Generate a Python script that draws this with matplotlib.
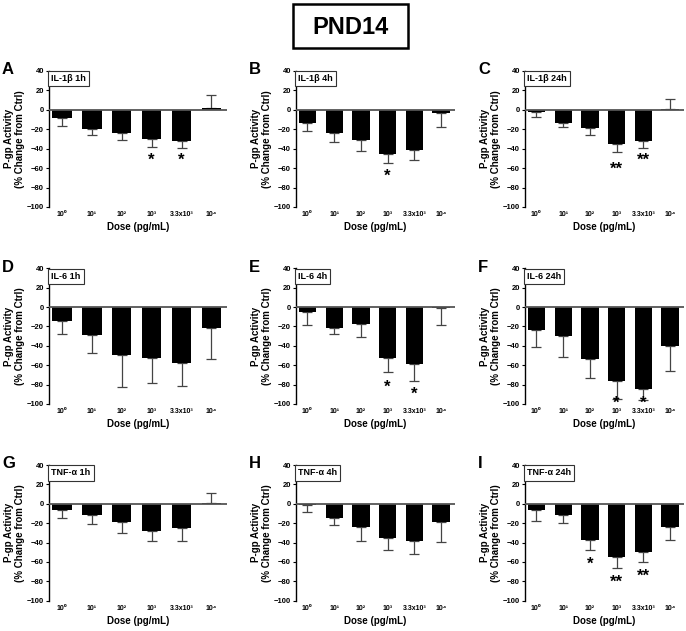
import matplotlib
matplotlib.use("Agg")
import matplotlib.pyplot as plt
from matplotlib.patches import Rectangle
import numpy as np

plt.rcParams['font.family'] = ['Liberation Sans', 'DejaVu Sans']

# --- data (mean, SEM) ---
doses = ['10⁰', '10¹', '10²', '10³', '3.3x10³', '10⁴']

il1b_1h_mean = [-8.8, -19.7, -24.5, -30.3, -32.0, 1.5]
il1b_1h_sem = [8.5, 6.8, 6.5, 8.1, 7.5, 13.5]
il1b_4h_mean = [-13.4, -24.0, -31.6, -45.6, -41.2, -3.4]
il1b_4h_sem = [8.2, 9.6, 10.6, 9.4, 11.0, 14.8]
il1b_24h_mean = [-2.4, -13.4, -19.0, -35.5, -32.0, 0.5]
il1b_24h_sem = [5.2, 4.5, 7.5, 8.3, 7.7, 10.5]

il6_1h_mean = [-14.1, -28.9, -49.9, -52.3, -57.4, -22.0]
il6_1h_sem = [13.8, 18.1, 32.7, 25.7, 24.5, 31.3]
il6_4h_mean = [-5.5, -21.7, -17.9, -52.6, -58.5, -1.4]
il6_4h_sem = [12.7, 6.5, 13.4, 14.4, 17.5, 17.6]
il6_24h_mean = [-23.8, -30.0, -53.5, -76.2, -84.6, -40.2]
il6_24h_sem = [17.2, 21.7, 19.9, 19.0, 11.0, 26.2]

tnf_1h_mean = [-6.9, -11.4, -19.0, -27.6, -24.8, 0.5]
tnf_1h_sem = [7.6, 9.3, 11.0, 11.0, 13.2, 10.5]
tnf_4h_mean = [-1.0, -14.9, -23.5, -35.6, -38.8, -18.3]
tnf_4h_sem = [7.0, 6.6, 14.5, 12.2, 13.2, 20.7]
tnf_24h_mean = [-6.9, -12.1, -37.4, -55.4, -50.2, -23.5]
tnf_24h_sem = [11.1, 7.3, 10.4, 11.0, 9.7, 13.9]

# significance marks: (bar index, mark, y position)
stars_a = [(3, '*', -47), (4, '*', -47)]
stars_b = [(3, '*', -63)]
stars_c = [(3, '**', -56), (4, '**', -47)]
stars_e = [(3, '*', -77), (4, '*', -85)]
stars_f = [(3, '*', -94), (4, '*', -94)]
stars_i = [(2, '*', -57), (3, '**', -76), (4, '**', -69)]

panels = [
    ('A', 'IL-1β 1h', il1b_1h_mean, il1b_1h_sem, stars_a),
    ('B', 'IL-1β 4h', il1b_4h_mean, il1b_4h_sem, stars_b),
    ('C', 'IL-1β 24h', il1b_24h_mean, il1b_24h_sem, stars_c),
    ('D', 'IL-6 1h', il6_1h_mean, il6_1h_sem, []),
    ('E', 'IL-6 4h', il6_4h_mean, il6_4h_sem, stars_e),
    ('F', 'IL-6 24h', il6_24h_mean, il6_24h_sem, stars_f),
    ('G', 'TNF-α 1h', tnf_1h_mean, tnf_1h_sem, []),
    ('H', 'TNF-α 4h', tnf_4h_mean, tnf_4h_sem, []),
    ('I', 'TNF-α 24h', tnf_24h_mean, tnf_24h_sem, stars_i),
]

W, H = 686, 631
fig = plt.figure(figsize=(W / 100, H / 100), dpi=100)

# layout in pixels
col_x = [(49, 178), (296, 159), (525, 159)]
row_y = [(70.7, 207), (268.3, 404), (465, 600.7)]

x = np.arange(len(doses))

for k, (letter, title, mean, sem, stars) in enumerate(panels):
    r, c = divmod(k, 3)
    x0, w = col_x[c]
    yt, yb = row_y[r]
    ax = fig.add_axes([x0 / W, 1 - yb / H, w / W, (yb - yt) / H])

    mean = np.array(mean)
    sem = np.array(sem)
    lower = np.where(mean < 0, sem, 0)
    upper = np.where(mean >= 0, sem, 0)

    ax.bar(x, mean, width=0.65, color='black', zorder=2)
    ax.errorbar(x, mean, yerr=[lower, upper], fmt='none', ecolor='#444444',
                elinewidth=0.9, capsize=3.5, capthick=0.9, zorder=1)
    ax.axhline(0, color='#555555', lw=1.3, zorder=3)

    for i, mark, yy in stars:
        ax.annotate(mark, (x[i], yy), xytext=(0, -7), textcoords='offset points',
                    ha='center', va='baseline', fontsize=12, fontweight='bold')

    ax.set_xlim(-0.43, 5.52)
    ax.set_ylim(-100, 40)
    ax.set_yticks(range(-100, 41, 20))
    ax.set_xticks(x)
    ax.set_xticklabels(doses, fontsize=5, fontweight='bold')
    ax.tick_params(axis='x', length=0, pad=3)
    ax.tick_params(axis='y', length=2.5, width=0.8, pad=1, labelsize=5.5)
    for lab in ax.get_yticklabels():
        lab.set_fontweight('bold')
    for s in ['top', 'right', 'bottom']:
        ax.spines[s].set_visible(False)
    ax.spines['left'].set_linewidth(1.0)

    ax.set_xlabel('Dose (pg/mL)', fontsize=7, fontweight='bold', labelpad=3)
    ax.set_ylabel('P-gp Activity\n(% Change from Ctrl)', fontsize=7,
                  fontweight='bold', labelpad=1.5, linespacing=1.15)

    ax.text(0.012, 0.975, title, transform=ax.transAxes, ha='left', va='top',
            fontsize=6.5, fontweight='bold', zorder=5,
            bbox=dict(boxstyle='square,pad=0.35', fc='white', ec='#333333', lw=0.8))

    fig.text((x0 - 47) / W, 1 - (yt - 1) / H, letter, fontsize=12,
             fontweight='bold', ha='left', va='center')

# title box
fig.text(350 / W, 1 - 27 / H, 'PND14', fontsize=17, fontweight='bold',
         ha='center', va='center')
fig.patches.append(Rectangle((293 / W, 1 - 48 / H), 115 / W, 44 / H,
                             transform=fig.transFigure, fill=False, lw=1.8,
                             ec='black'))

fig.savefig('out.png', dpi=100)
